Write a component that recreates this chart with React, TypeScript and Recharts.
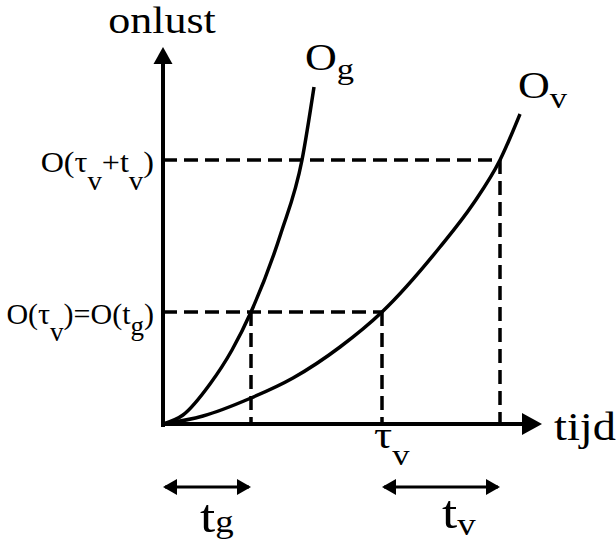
import React from 'react';
import { LineChart, Line, XAxis, YAxis, ReferenceLine, ReferenceDot } from 'recharts';

const FONT = '"Liberation Serif", "Times New Roman", serif';

// ---- data (time on x, onlust on y) ----
const ogTime = [0, 20, 47, 69, 88, 118, 139, 151];
const ogValue = [0, 9, 40, 74, 112, 191, 264, 337];
const ovTime = [0, 40, 88, 130, 177, 219, 277, 310, 337, 357];
const ovValue = [0, 8, 26, 46, 77, 112, 177, 220, 264, 310];
const markTimes = [88, 219, 337]; // t_g, tau_v, tau_v + t_v
const markLevels = [112, 264]; // O(tau_v)=O(t_g), O(tau_v+t_v)
const axisEnds = [379, 377]; // end of tijd-axis, end of onlust-axis

type Part = { t: string; size: number; dy?: number };
const levelLabels: Part[][] = [
  [
    { t: 'O(τ', size: 30 },
    { t: 'v', size: 27, dy: 17 },
    { t: ')=O(t', size: 30 },
    { t: 'g', size: 27, dy: 11 },
    { t: ')', size: 30 },
  ],
  [
    { t: 'O(τ', size: 30 },
    { t: 'v', size: 27, dy: 18 },
    { t: '+t', size: 30 },
    { t: 'v', size: 27, dy: 18 },
    { t: ')', size: 30 },
  ],
];
const levelScale = [1.0, 1.07];
const ogLabel: Part[] = [{ t: 'O', size: 37 }, { t: 'g', size: 29, dy: 9 }];
const ovLabel: Part[] = [{ t: 'O', size: 37 }, { t: 'v', size: 29, dy: 10 }];
const tauLabel: Part[] = [{ t: 'τ', size: 38 }, { t: 'v', size: 29, dy: 17 }];
const tgLabel: Part[] = [{ t: 't', size: 46 }, { t: 'g', size: 31, dy: 0 }];
const tvLabel: Part[] = [{ t: 't', size: 46 }, { t: 'v', size: 31, dy: 7 }];
const yTitle: Part[] = [{ t: 'onlust', size: 37 }];
const xTitle: Part[] = [{ t: 'tijd', size: 39 }];

const ogData = ogTime.map((x, i) => ({ x, y: ogValue[i] }));
const ovData = ovTime.map((x, i) => ({ x, y: ovValue[i] }));

const ARROW_ROW = -63;

function Rich({ x, y, parts, anchor = 'start', sx = 1.19 }: any) {
  let prev = 0;
  return (
    <g transform={`translate(${x},${y}) scale(${sx},1)`}>
      <text x={0} y={0} textAnchor={anchor} fontFamily={FONT} fill="#000">
        {parts.map((p: Part, i: number) => {
          const d = (p.dy || 0) - prev;
          prev = p.dy || 0;
          return (
            <tspan key={i} dy={d} fontSize={p.size}>
              {p.t}
            </tspan>
          );
        })}
      </text>
    </g>
  );
}

const YTick = (props: any) => {
  const idx = markLevels.indexOf(props.payload.value);
  return <Rich x={props.x} y={props.y + 12} parts={levelLabels[idx]} anchor="end" sx={levelScale[idx]} />;
};

const head = (dir: 'up' | 'right' | 'left', len: number, half: number) => (p: any) => {
  const { cx, cy } = p;
  let pts = '';
  if (dir === 'up') pts = `${cx},${cy} ${cx - half},${cy + len} ${cx + half},${cy + len}`;
  if (dir === 'right') pts = `${cx},${cy} ${cx - len},${cy - half} ${cx - len},${cy + half}`;
  if (dir === 'left') pts = `${cx},${cy} ${cx + len},${cy - half} ${cx + len},${cy + half}`;
  return <polygon points={pts} fill="#000" stroke="none" />;
};

const label = (parts: Part[], dx: number, dy: number, anchor = 'start') => (p: any) => (
  <Rich x={p.cx + dx} y={p.cy + dy} parts={parts} anchor={anchor} />
);

const dash = { stroke: '#000', strokeWidth: 3.5, strokeDasharray: '14 7' };

export default function App() {
  const lastOg = ogData[ogData.length - 1];
  const lastOv = ovData[ovData.length - 1];
  return (
    <div style={{ position: 'absolute', left: 0, top: 0, background: '#fff' }}>
      <LineChart width={616} height={543} margin={{ top: 23, right: 13, bottom: 0, left: 0 }}>
        <XAxis type="number" dataKey="x" domain={[0, 440]} allowDataOverflow hide />
        <YAxis
          type="number"
          dataKey="y"
          domain={[-119, 401]}
          allowDataOverflow
          width={163}
          ticks={markLevels}
          interval={0}
          tickLine={false}
          axisLine={false}
          tickSize={0}
          tickMargin={9}
          tick={<YTick />}
        />
        {/* dashed guide lines */}
        <ReferenceLine segment={[{ x: 0, y: markLevels[1] }, { x: markTimes[2], y: markLevels[1] }]} {...dash} />
        <ReferenceLine segment={[{ x: 0, y: markLevels[0] }, { x: markTimes[1], y: markLevels[0] }]} {...dash} />
        <ReferenceLine segment={[{ x: markTimes[0], y: markLevels[0] }, { x: markTimes[0], y: 0 }]} {...dash} />
        <ReferenceLine segment={[{ x: markTimes[1], y: markLevels[0] }, { x: markTimes[1], y: 0 }]} {...dash} />
        <ReferenceLine segment={[{ x: markTimes[2], y: markLevels[1] }, { x: markTimes[2], y: 0 }]} {...dash} />
        {/* axes */}
        <ReferenceLine
          segment={[{ x: 0, y: -1 }, { x: 0, y: axisEnds[1] - 10 }]}
          stroke="#000"
          strokeWidth={4}
          strokeLinecap="square"
        />
        <ReferenceLine
          segment={[{ x: 0, y: 0 }, { x: axisEnds[0] - 10, y: 0 }]}
          stroke="#000"
          strokeWidth={4}
          strokeLinecap="square"
        />
        <ReferenceDot x={0} y={axisEnds[1]} r={1} shape={head('up', 17, 9.5)} />
        <ReferenceDot x={axisEnds[0]} y={0} r={1} shape={head('right', 20, 11)} />
        {/* curves */}
        <Line data={ogData} dataKey="y" type="monotone" stroke="#000" strokeWidth={3.5} dot={false} isAnimationActive={false} />
        <Line data={ovData} dataKey="y" type="monotone" stroke="#000" strokeWidth={3.5} dot={false} isAnimationActive={false} />
        {/* interval arrows */}
        <ReferenceLine segment={[{ x: 2, y: ARROW_ROW }, { x: markTimes[0] - 2, y: ARROW_ROW }]} stroke="#000" strokeWidth={3} />
        <ReferenceLine segment={[{ x: markTimes[1] + 2, y: ARROW_ROW }, { x: markTimes[2] - 2, y: ARROW_ROW }]} stroke="#000" strokeWidth={3} />
        <ReferenceDot x={0} y={ARROW_ROW} r={1} shape={head('left', 14, 8)} />
        <ReferenceDot x={markTimes[0]} y={ARROW_ROW} r={1} shape={head('right', 14, 8)} />
        <ReferenceDot x={markTimes[1]} y={ARROW_ROW} r={1} shape={head('left', 14, 8)} />
        <ReferenceDot x={markTimes[2]} y={ARROW_ROW} r={1} shape={head('right', 14, 8)} />
        {/* labels */}
        <ReferenceDot x={0} y={axisEnds[1]} r={1} shape={label(yTitle, -1, -14, 'middle')} />
        <ReferenceDot x={axisEnds[0]} y={0} r={1} shape={label(xTitle, 12, 16)} />
        <ReferenceDot x={lastOg.x} y={lastOg.y} r={1} shape={label(ogLabel, -9, -17)} />
        <ReferenceDot x={lastOv.x} y={lastOv.y} r={1} shape={label(ovLabel, -2, -16)} />
        <ReferenceDot x={markTimes[1]} y={0} r={1} shape={label(tauLabel, -8, 24)} />
        <ReferenceDot x={markTimes[0] / 2} y={ARROW_ROW} r={1} shape={label(tgLabel, -7, 45)} />
        <ReferenceDot x={(markTimes[1] + markTimes[2]) / 2} y={ARROW_ROW} r={1} shape={label(tvLabel, 1, 41)} />
      </LineChart>
    </div>
  );
}
